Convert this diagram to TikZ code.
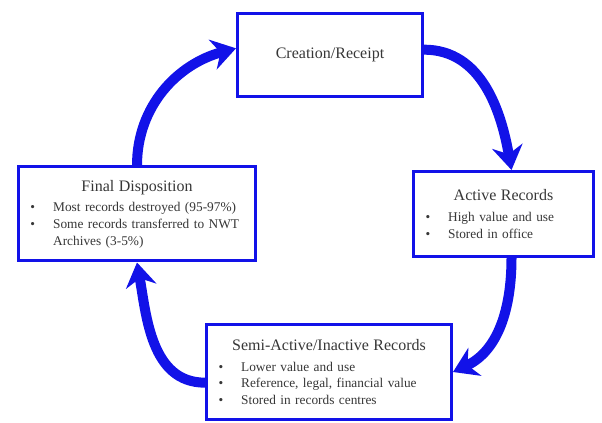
\documentclass[tikz,border=0pt]{standalone}
\usepackage{fontspec}
\setmainfont{Liberation Serif}
\usetikzlibrary{arrows.meta}
\definecolor{CycleBlue}{RGB}{18,18,232}
\definecolor{TextGray}{RGB}{55,55,55}
\newcommand{\recitem}[1]{\hspace*{9pt}\makebox[17pt][l]{\textbullet}#1}
\newcommand{\recmore}[1]{\hspace*{26pt}#1}
\newcommand{\rectitle}[1]{\makebox[\linewidth]{\fontsize{12}{14}\selectfont #1}}

\begin{document}
\begin{tikzpicture}[
    x=0.75pt, y=-0.75pt,
    font=\fontsize{10}{12.5}\selectfont,
    >={Stealth[length=18pt,width=23pt,inset=6pt]},
    box/.style={draw=CycleBlue, line width=2.25pt, fill=white, text=TextGray, inner sep=0pt, align=left},
    arrow/.style={->, line width=7.5pt, draw=CycleBlue}
]
\useasboundingbox (0,0) rectangle (602,423);
\node[box, align=center, text width=138.75pt, minimum height=62.25pt, font=\fontsize{12}{14}\selectfont] (creation) at (330,55) {Creation/Receipt};
\node[box, text width=135pt, minimum height=63.75pt] (active) at (503.5,214) {\rectitle{Active Records}\\[3pt]
  \recitem{High value and use}\\
  \recitem{Stored in office}};
\node[box, text width=183.75pt, minimum height=71.25pt] (semi) at (329,372) {\rectitle{Semi-Active/Inactive Records}\\[3pt]
  \recitem{Lower value and use}\\
  \recitem{Reference, legal, financial value}\\
  \recitem{Stored in records centres}};
\node[box, text width=177.75pt, minimum height=70.5pt] (final) at (137,214) {\rectitle{Final Disposition}\\[3pt]
  \recitem{Most records destroyed (95-97\%)}\\
  \recitem{Some records transferred to NWT}\\
  \recmore{Archives (3-5\%)}};
\draw[arrow] (final.north) to[out=90,in=195] ([yshift=5pt]creation.west);
\draw[arrow] ([yshift=4pt]creation.east) to[out=0,in=100] ([xshift=6pt]active.north);
\draw[arrow] ([xshift=6pt]active.south) to[out=-90,in=25] (semi.east);
\draw[arrow] ([yshift=-8pt]semi.west) to[out=180,in=-80] (final.south);
\end{tikzpicture}
\end{document}
